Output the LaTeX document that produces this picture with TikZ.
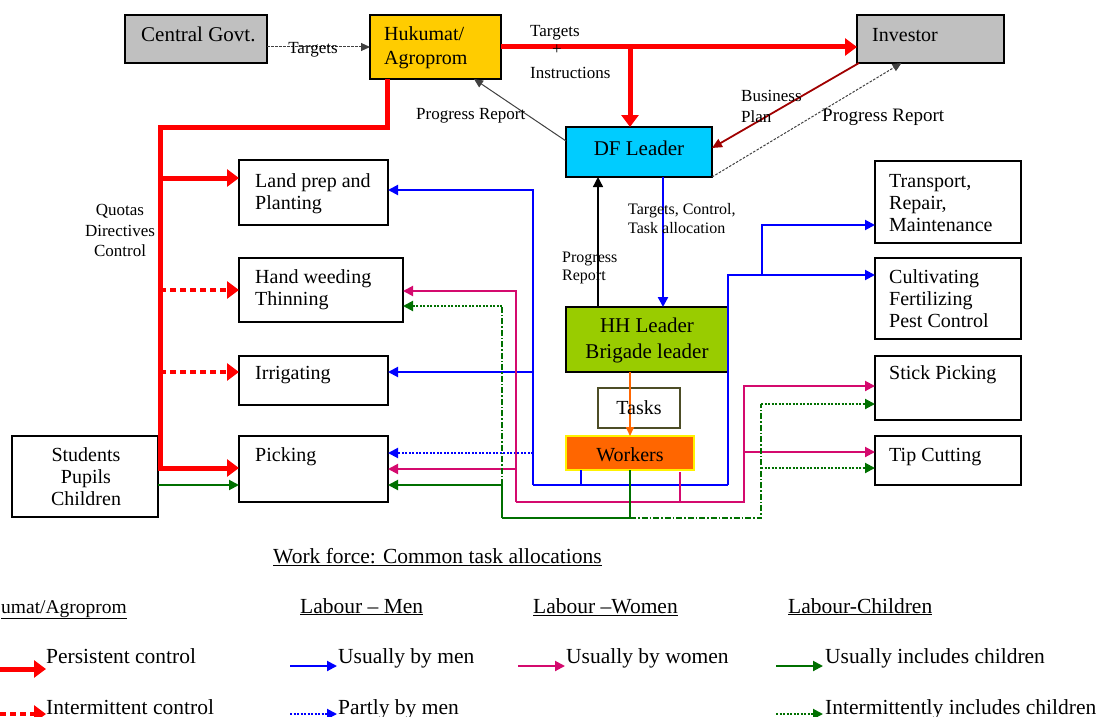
\documentclass[tikz,border=0pt]{standalone}
\usepackage{fontspec}
\setmainfont{Liberation Serif}
\usetikzlibrary{arrows.meta}
\definecolor{cgray}{HTML}{C0C0C0}
\definecolor{cgold}{HTML}{FFCC00}
\definecolor{ccyan}{HTML}{00CCFF}
\definecolor{cgreenf}{HTML}{99CC00}
\definecolor{corange}{HTML}{FF6600}
\definecolor{cred}{HTML}{FF0000}
\definecolor{cblue}{HTML}{0000FF}
\definecolor{cpink}{HTML}{D40A6E}
\definecolor{cgrn}{HTML}{007000}
\definecolor{cmaroon}{HTML}{A00000}
\definecolor{colive}{HTML}{4D4D26}
\definecolor{cline}{HTML}{404040}
\newcommand\myfs[1]{\fontsize{#1}{22}\selectfont}
\begin{document}
\begin{tikzpicture}[x=1pt,y=-1pt,
 box/.style={draw=black,line width=1.3pt,anchor=north west,inner sep=0pt,outer sep=0pt},
 t/.style={inner sep=0pt,anchor=base west,font=\myfs{20}},
 tc/.style={inner sep=0pt,anchor=base,font=\myfs{20}},
 lbl/.style={inner sep=0pt,anchor=base west,font=\myfs{17}},
 lblc/.style={inner sep=0pt,anchor=base,font=\myfs{17}},
 lg/.style={inner sep=0pt,anchor=base west,font=\myfs{21.5}},
 tipS/.style={-{Triangle[length=10pt,width=10pt]}},
 tipL/.style={-{Triangle[length=12pt,width=17pt]}},
 redT/.style={draw=cred,line width=5pt},
 redD/.style={draw=cred,line width=4.5pt,dash pattern=on 6pt off 4pt},
 bl/.style={draw=cblue,line width=2pt},
 blD/.style={draw=cblue,line width=2pt,dash pattern=on 2pt off 1.5pt},
 pk/.style={draw=cpink,line width=2pt},
 gr/.style={draw=cgrn,line width=2pt},
 grDD/.style={draw=cgrn,line width=1.6pt,dash pattern=on 6pt off 2pt on 1.5pt off 2pt},
 grD/.style={draw=cgrn,line width=2pt,dash pattern=on 2pt off 1.5pt},
 thin/.style={draw=cline,line width=1pt},
 thinD/.style={draw=cline,line width=1pt,dash pattern=on 2.5pt off 1.5pt},
]
\useasboundingbox (0,0) rectangle (1100,717);

% ---------- boxes ----------
\node[box,fill=cgray,minimum width=142pt,minimum height=48pt] (cg) at (125,15) {};
\node[box,fill=cgold,minimum width=131pt,minimum height=64pt] (huk) at (370,15) {};
\node[box,fill=cgray,minimum width=147pt,minimum height=48pt] (inv) at (857,15) {};
\node[box,fill=ccyan,minimum width=146pt,minimum height=50pt] (df) at (566,127) {};
\node[box,minimum width=149pt,minimum height=65pt] (land) at (239,160) {};
\node[box,minimum width=164pt,minimum height=64pt] (hand) at (239,258) {};
\node[box,minimum width=149pt,minimum height=49pt] (irr) at (239,356) {};
\node[box,minimum width=149pt,minimum height=66pt] (pick) at (239,436) {};
\node[box,minimum width=146pt,minimum height=81pt] (stud) at (12,436) {};
\node[box,minimum width=146pt,minimum height=82pt] (trans) at (875,161) {};
\node[box,minimum width=146pt,minimum height=81pt] (cult) at (875,258) {};
\node[box,minimum width=146pt,minimum height=64pt] (stick) at (875,356) {};
\node[box,minimum width=146pt,minimum height=49pt] (tip) at (875,436) {};
\node[box,fill=cgreenf,minimum width=162pt,minimum height=65pt] (hh) at (566,307) {};
\node[box,draw=colive,fill=white,minimum width=82pt,minimum height=40pt] (tasks) at (598,388) {};
\node[box,draw=yellow,fill=corange,minimum width=128pt,minimum height=34pt] (work) at (566,436) {};

% ---------- junction coordinates ----------
\coordinate (rA) at (387,127);
\coordinate (rB) at (160,127);
\coordinate (rL) at (160,178);
\coordinate (rH) at (160,290);
\coordinate (rI) at (160,372);
\coordinate (rP) at (160,468);
\coordinate (j1) at (630,47);
\coordinate (dh) at (663,250);
\coordinate (hd) at (598,250);
\coordinate (bT) at (533,190);
\coordinate (bI) at (533,372);
\coordinate (bP) at (533,453);
\coordinate (bB) at (533,485);
\coordinate (bW) at (581,485);
\coordinate (bR) at (728,485);
\coordinate (bRT) at (728,275);
\coordinate (bJ) at (762,275);
\coordinate (bJT) at (762,225);
\coordinate (pT) at (516,291);
\coordinate (pP) at (516,469);
\coordinate (pB) at (516,502);
\coordinate (pW) at (680,502);
\coordinate (pR) at (744,502);
\coordinate (pS) at (744,386);
\coordinate (pTip) at (744,452);
\coordinate (gT) at (502,306);
\coordinate (gP) at (502,485);
\coordinate (gB) at (502,518);
\coordinate (gW) at (630,518);
\coordinate (gR) at (761,518);
\coordinate (gS) at (761,404);
\coordinate (gTip) at (761,468);
\coordinate (sP) at (158,485);

% ---------- top connectors ----------
\draw[thinD,-{Triangle[length=9pt,width=8pt]}] (cg.east |- huk.west) -- (huk.west);
\draw[redT] (huk.east) -- (j1);
\draw[redT,tipL] (j1) -- (inv.west |- j1);
\draw[redT,tipL] (j1) -- (j1 |- df.north);
\draw[thin,-{Triangle[length=9pt,width=8pt]}] ([yshift=-14pt]df.north west) -- ([xshift=-27pt]huk.south east);
\draw[draw=cmaroon,line width=1.8pt,-{Triangle[length=10pt,width=9pt]}] ([xshift=2pt]inv.south west) -- ([yshift=4pt]df.east);
\draw[thinD,-{Triangle[length=9pt,width=8pt]}] (df.south east) -- ([xshift=-29pt]inv.south);

% ---------- red distribution ----------
\draw[redT] ([xshift=17pt]huk.south west) -- (rA) -- (rB) -- (rP);
\draw[redT,tipL] (rL) -- (rL -| land.west);
\draw[redD,tipL] (rH) -- (rH -| hand.west);
\draw[redD,tipL] (rI) -- (rI -| irr.west);
\draw[redT,tipL] ([xshift=-2.5pt]rP) -- (rP -| pick.west);
\draw[gr,tipS] (sP) -- (sP -| pick.west);

% ---------- DF / HH ----------
\draw[bl,line width=2.4pt,tipS] (df.south -| dh) -- (hh.north -| dh);
\draw[draw=black,line width=1.3pt,tipS] (hh.north -| hd) -- (df.south -| hd);
\draw[draw=corange,line width=1.6pt,-{Triangle[length=9pt,width=8pt]}] (hh.south -| work.north) -- (work.north);

% ---------- men (blue) ----------
\draw[bl,tipS] (bB) -- (bT) -- (bT -| land.east);
\draw[bl,tipS] (bI) -- (bI -| irr.east);
\draw[blD,tipS] (bP) -- (bP -| pick.east);
\draw[bl] (bB) -- (bR);
\draw[bl] (bW |- work.south) -- (bW);
\draw[bl,tipS] (bR) -- (bRT) -- (bRT -| cult.west);
\draw[bl,tipS] (bJ) -- (bJT) -- (bJT -| trans.west);

% ---------- women (pink) ----------
\draw[pk,tipS] (pB) -- (pT) -- (pT -| hand.east);
\draw[pk,tipS] (pP) -- (pP -| pick.east);
\draw[pk,tipS] (pB) -- (pR) -- (pS) -- (pS -| stick.west);
\draw[pk,tipS] (pTip) -- (pTip -| tip.west);
\draw[pk] ([yshift=-2pt]pW |- work.south) -- (pW);

% ---------- children (green) ----------
\draw[grDD] (gP) -- (gT);
\draw[grD,tipS] (gT) -- (gT -| hand.east);
\draw[gr,tipS] (gB) -- (gP) -- (gP -| pick.east);
\draw[gr] (gB) -- (gW);
\draw[gr] (gW |- work.south) -- (gW);
\draw[grDD] (gW) -- (gR) -- (gS);
\draw[grD,tipS] (gS) -- (gS -| stick.west);
\draw[grD,tipS] (gTip) -- (gTip -| tip.west);

% ---------- box texts ----------
\node[t,font=\myfs{21}] (tcg) at (141,42) {Central Govt.};
\node[t] (thuk1) at (384,41) {Hukumat/};
\node[t] (thuk2) at (384,65) {Agroprom};
\node[t] (tinv) at (872,42) {Investor};
\node[tc,font=\myfs{21}] (tdf) at (639,155) {DF Leader};
\node[t] (tland1) at (255,187) {Land prep and};
\node[t] (tland2) at (255,209) {Planting};
\node[t] (thand1) at (255,283) {Hand weeding};
\node[t] (thand2) at (255,305) {Thinning};
\node[t] (tirr) at (255,379) {Irrigating};
\node[t] (tpick) at (255,461) {Picking};
\node[tc] (tstud1) at (86,461) {Students};
\node[tc] (tstud2) at (86,483) {Pupils};
\node[tc] (tstud3) at (86,505) {Children};
\node[t] (ttr1) at (889,187) {Transport,};
\node[t] (ttr2) at (889,209) {Repair,};
\node[t] (ttr3) at (889,231) {Maintenance};
\node[t] (tcu1) at (889,283) {Cultivating};
\node[t] (tcu2) at (889,305) {Fertilizing};
\node[t] (tcu3) at (889,327) {Pest Control};
\node[t] (tstick) at (889,379) {Stick Picking};
\node[t] (ttip) at (889,461) {Tip Cutting};
\node[tc,font=\myfs{21}] (thh1) at (647,332) {HH Leader};
\node[tc,font=\myfs{21}] (thh2) at (647,358) {Brigade leader};
\node[tc] (ttasks) at (639,414) {Tasks};
\node[tc] (twork) at (630,461) {Workers};

% ---------- connector labels ----------
\node[lblc] (lt1) at (313,53) {Targets};
\node[lbl] (lt2) at (530,37) {Targets};
\node[lblc] (lt3) at (557,55) {+};
\node[lbl] (lt4) at (530,78) {Instructions};
\node[lbl] (lpr1) at (416,119) {Progress Report};
\node[lbl] (lbp1) at (741,101) {Business};
\node[lbl] (lbp2) at (741,122) {Plan};
\node[lbl,font=\myfs{19}] (lpr2) at (822,121) {Progress Report};
\node[lblc] (lq1) at (120,215) {Quotas};
\node[lblc] (lq2) at (120,236) {Directives};
\node[lblc] (lq3) at (120,256) {Control};
\node[lbl,font=\myfs{16}] (ltc1) at (628,214) {Targets, Control,};
\node[lbl,font=\myfs{16}] (ltc2) at (628,233) {Task allocation};
\node[lbl,font=\myfs{16}] (lpr3) at (562,262) {Progress};
\node[lbl,font=\myfs{16}] (lpr4) at (562,280) {Report};

% ---------- legend ----------
\node[lg] (hw) at (273,563) {\underline{Work force: Common task allocations}};
\node[lg,font=\myfs{19.5}] (hh0) at (1,613) {\underline{umat/Agroprom}};
\node[lg] (hm) at (300,613) {\underline{Labour – Men}};
\node[lg] (hwm) at (533,613) {\underline{Labour –Women}};
\node[lg] (hc) at (788,613) {\underline{Labour-Children}};

\node[lg] (g1) at (46,663) {Persistent control};
\node[lg] (g2) at (46,714) {Intermittent control};
\node[lg] (g3) at (338,663) {Usually by men};
\node[lg] (g4) at (338,714) {Partly by men};
\node[lg] (g5) at (566,663) {Usually by women};
\node[lg] (g6) at (825,663) {Usually includes children};
\node[lg] (g7) at (825,714) {Intermittently includes children};

\coordinate (a1) at (0,669);   \coordinate (b1) at (46,669);
\coordinate (a2) at (0,714);   \coordinate (b2) at (46,714);
\coordinate (a3) at (290,666); \coordinate (b3) at (337,666);
\coordinate (a4) at (290,714); \coordinate (b4) at (337,714);
\coordinate (a5) at (518,666); \coordinate (b5) at (565,666);
\coordinate (a6) at (776,666); \coordinate (b6) at (823,666);
\coordinate (a7) at (776,714); \coordinate (b7) at (823,714);
\draw[redT,tipL] (a1) -- (b1);
\draw[redD,tipL] (a2) -- (b2);
\draw[bl,tipS] (a3) -- (b3);
\draw[blD,tipS] (a4) -- (b4);
\draw[pk,tipS] (a5) -- (b5);
\draw[gr,tipS] (a6) -- (b6);
\draw[grD,tipS] (a7) -- (b7);
\end{tikzpicture}
\end{document}
